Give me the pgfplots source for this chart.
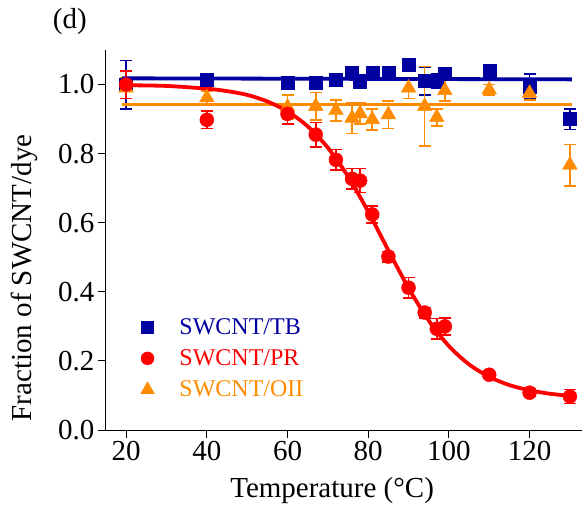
\documentclass[border=0pt]{standalone}
\usepackage{fontspec}
\setmainfont{Liberation Serif}
\usepackage{pgfplots}
\pgfplotsset{compat=1.18}
\usepackage{pgfplotstable}
\definecolor{tbblue}{RGB}{0,0,160}
\definecolor{prred}{RGB}{255,0,0}
\definecolor{oiiorange}{RGB}{255,140,0}
\pgfplotstableread{
x y ey
20 1.000 0.070
40 1.015 0.012
60 1.005 0.012
67 1.005 0.012
72 1.015 0.012
76 1.033 0.012
78 1.008 0.020
81 1.033 0.012
85 1.033 0.012
90 1.057 0.012
94 1.010 0.040
97 1.010 0.020
99 1.030 0.015
110 1.040 0.010
120 0.995 0.035
130 0.900 0.030
}\tbdata
\pgfplotstableread{
x y ey
20 1.000 0.040
40 0.898 0.025
60 0.915 0.030
67 0.855 0.035
72 0.782 0.030
76 0.727 0.030
78 0.722 0.035
81 0.624 0.025
85 0.502 0.015
90 0.412 0.030
94 0.340 0.015
97 0.293 0.030
99 0.300 0.025
110 0.160 0.010
120 0.108 0.010
130 0.097 0.020
}\prdata
\pgfplotstableread{
x y ey
20 0.990 0.030
40 0.962 0.020
60 0.935 0.035
67 0.937 0.040
72 0.925 0.030
76 0.903 0.045
78 0.916 0.030
81 0.899 0.030
85 0.913 0.040
90 0.990 0.030
94 0.937 0.115
97 0.905 0.025
99 0.983 0.030
110 0.985 0.015
120 0.975 0.020
130 0.767 0.060
}\oiidata
\begin{document}
\begin{tikzpicture}
\useasboundingbox (0,0) rectangle (582pt,512pt);
\begin{axis}[
  at={(106pt,82pt)}, anchor=south west,
  width=476pt, height=380pt, scale only axis,
  xmin=15, xmax=133, ymin=0, ymax=1.1,
  clip=false,
  axis lines=left,
  axis line style={-, line width=1pt},
  x axis line style={shorten <=-8pt},
  xtick={20,40,60,80,100,120},
  ytick={0,0.2,0.4,0.6,0.8,1.0},
  tick align=outside,
  major tick length=8pt,
  tick style={line width=1pt, black},
  yticklabel style={/pgf/number format/fixed, /pgf/number format/fixed zerofill, /pgf/number format/precision=1},
  /pgf/number format/assume math mode=true,
  tick label style={font=\fontsize{29}{32}\selectfont},
  xlabel={Temperature (°C)},
  ylabel={Fraction of SWCNT/dye},
  label style={font=\fontsize{29}{32}\selectfont},
  xlabel style={at={(axis description cs:0.475,-0.158)}, anchor=center},
  ylabel style={at={(axis description cs:-0.172,0.40)}, anchor=center, rotate=0},
  legend style={draw=none, fill=none, at={(axis description cs:0.066,0.305)}, anchor=north west,
    font=\fontsize{24}{28}\selectfont, row sep=10pt, column sep=4pt},
  legend cell align=left,
  error bars/error bar style={line width=1.6pt},
  error bars/error mark options={rotate=90, mark size=6pt, line width=1.6pt},
]
\addlegendimage{only marks, mark=square*, color=tbblue, mark size=6pt}
\addlegendentry{\hspace{19pt}\textcolor{tbblue}{SWCNT/TB}}
\addlegendimage{only marks, mark=*, color=prred, mark size=6.5pt}
\addlegendentry{\hspace{19pt}\textcolor{prred}{SWCNT/PR}}
\addlegendimage{only marks, mark=triangle*, color=oiiorange, mark size=8pt}
\addlegendentry{\hspace{19pt}\textcolor{oiiorange}{SWCNT/OII}}

\addplot[forget plot, only marks, mark=square*, color=tbblue, mark size=6.5pt,
  error bars/.cd, y dir=both, y explicit] table[x=x, y=y, y error=ey] {\tbdata};
\addplot[forget plot, only marks, mark=triangle*, color=oiiorange, mark size=8.5pt,
  error bars/.cd, y dir=both, y explicit] table[x=x, y=y, y error=ey] {\oiidata};
\addplot[forget plot, only marks, mark=*, color=prred, mark size=7pt,
  error bars/.cd, y dir=both, y explicit] table[x=x, y=y, y error=ey] {\prdata};

\addplot[forget plot, color=oiiorange, line width=3.8pt, no marks] coordinates {(19,0.942) (130.5,0.942)};
\addplot[forget plot, color=tbblue, line width=3.8pt, no marks] coordinates {(19,1.018) (130.5,1.015)};
\addplot[forget plot, color=prred, line width=3.8pt, no marks, smooth] coordinates {
(20,0.998) (30,0.996) (40,0.988) (45,0.981) (50,0.970) (55,0.951) (60,0.922) (65,0.879)
(70,0.817) (75,0.734) (80,0.632) (85,0.520) (90,0.411) (95,0.317) (100,0.243) (105,0.190)
(110,0.154) (115,0.130) (120,0.115) (125,0.105) (130,0.099)};

\node[font=\fontsize{29}{32}\selectfont, anchor=center] at (axis description cs:-0.076,1.074) {(d)};
\end{axis}
\end{tikzpicture}
\end{document}
